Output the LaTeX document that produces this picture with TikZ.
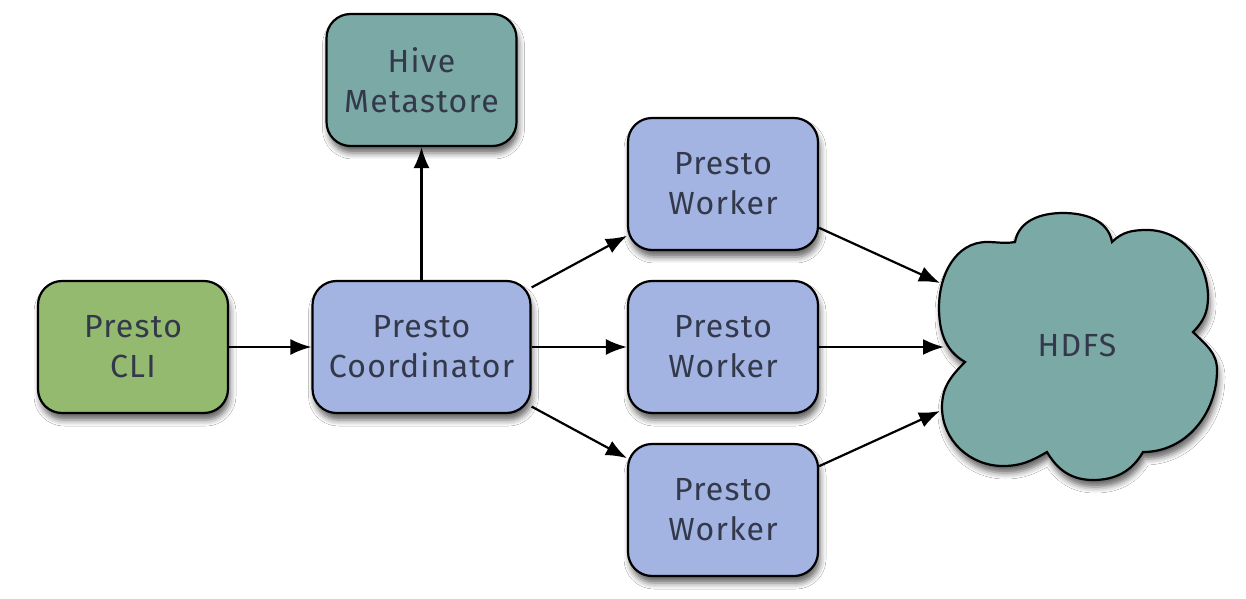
\documentclass[tikz,border=0pt]{standalone}
\usepackage{fontspec}
\setmainfont{Fira Sans}[LetterSpace=4]
\usetikzlibrary{arrows.meta,shadows.blur}
\definecolor{cligreen}{HTML}{94BA6F}
\definecolor{prestoblue}{HTML}{A3B4E2}
\definecolor{hiveteal}{HTML}{7BA9A6}
\definecolor{txt}{HTML}{33384A}
\begin{document}
\begin{tikzpicture}[x=1pt,y=1pt,
  myshadow/.style={blur shadow={shadow xshift=2pt,shadow yshift=-7pt,shadow blur radius=6pt,shadow opacity=60}},
  box/.style={draw=black, line width=2.2pt, rounded corners=24pt,
    minimum width=190pt, minimum height=132pt, align=center, text=txt,
    font=\fontsize{32}{40}\selectfont, myshadow}]
\tikzset{conn/.style={draw=black, line width=2.2pt, -{Latex[length=21pt,width=16pt]}}}
\useasboundingbox (0,0) rectangle (1246,598);
\fill[white] (0,0) rectangle (1246,598);

\node[box, fill=cligreen] (cli) at (133,251) {Presto\\CLI};
\node[box, fill=prestoblue, minimum width=218pt] (coord) at (421.5,251) {Presto\\Coordinator};
\node[box, fill=hiveteal] (hive) at (421.5,518) {Hive\\Metastore};
\node[box, fill=prestoblue] (w1) at (723,414) {Presto\\Worker};
\node[box, fill=prestoblue] (w2) at (723,251) {Presto\\Worker};
\node[box, fill=prestoblue] (w3) at (723,88) {Presto\\Worker};

% HDFS cloud
\draw[fill=hiveteal, line width=2.2pt, myshadow]
  (1015,356) to[out=80,in=180] (1063,385) to[out=0,in=100] (1112,356)
  to[out=45,in=180] (1147,368) to[out=0,in=90] (1208,301) to[out=270,in=45] (1193,266)
  to[out=-45,in=90] (1217,228) to[out=270,in=0] (1143,146)
  to[out=240,in=0] (1093,118) to[out=180,in=-60] (1047,146)
  to[out=210,in=0] (1003,132) to[out=180,in=270] (942,191) to[out=90,in=225] (965,236)
  to[out=150,in=270] (939,291) to[out=90,in=180] (987,356) to[out=0,in=190] (1015,356) -- cycle;
\node[text=txt, font=\fontsize{32}{40}\selectfont] (hdfs) at (1077,253) {HDFS};
\coordinate (h1) at (940,315);
\coordinate (h2) at (944,251);
\coordinate (h3) at (940,187);

\draw[conn] (cli) -- (coord);
\draw[conn] (coord) -- (hive);
\draw[conn] (coord) -- (w1);
\draw[conn] (coord) -- (w2);
\draw[conn] (coord) -- (w3);
\draw[conn] (w1) -- (h1);
\draw[conn] (w2) -- (h2);
\draw[conn] (w3) -- (h3);
\end{tikzpicture}
\end{document}
